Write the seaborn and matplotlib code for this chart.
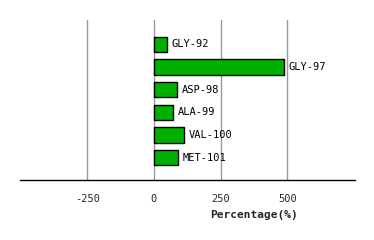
import matplotlib
matplotlib.use("Agg")
import matplotlib.pyplot as plt
import seaborn as sns
import pandas as pd

residues = ["GLY-92", "GLY-97", "ASP-98", "ALA-99", "VAL-100", "MET-101"]
percentages = [51, 489, 88, 73, 114, 92]
xticks = [-250, 0, 250, 500]

sns.set_theme(style="white")
plt.rcParams["font.family"] = ["DejaVu Sans Mono"]

df = pd.DataFrame({"residue": residues, "pct": percentages})

fig = plt.figure(figsize=(3.74, 2.40), dpi=100)
ax = fig.add_axes([20/374, 1 - 180/240, 335/374, 160/240])

sns.barplot(data=df, x="pct", y="residue", orient="h", color="#00b000",
            saturation=1, edgecolor="black", linewidth=1.0, width=0.68, ax=ax)

for i, (name, v) in enumerate(zip(residues, percentages)):
    ax.annotate(name, xy=(v, i), xytext=(3, 0), textcoords="offset points",
                va="center", ha="left", fontsize=7.5, color="black")

ax.set_xlim(-502, 754)
ax.set_ylim(5.98, -1.07)
ax.set_xticks(xticks)
ax.set_xticklabels([str(t) for t in xticks], fontsize=7.5)
ax.set_yticks([])
ax.set_ylabel("")
ax.set_xlabel("")
ax.tick_params(axis="x", length=0, pad=10)
for t in xticks:
    ax.axvline(t, color="#999999", linewidth=1, zorder=0)
for s in ["top", "left", "right"]:
    ax.spines[s].set_visible(False)
ax.spines["bottom"].set_color("black")
ax.spines["bottom"].set_linewidth(1)
ax.text(0.70, -0.22, "Percentage(%)", transform=ax.transAxes, ha="center",
        va="center", fontsize=8, fontweight="bold")

fig.savefig("out.png", dpi=100)
